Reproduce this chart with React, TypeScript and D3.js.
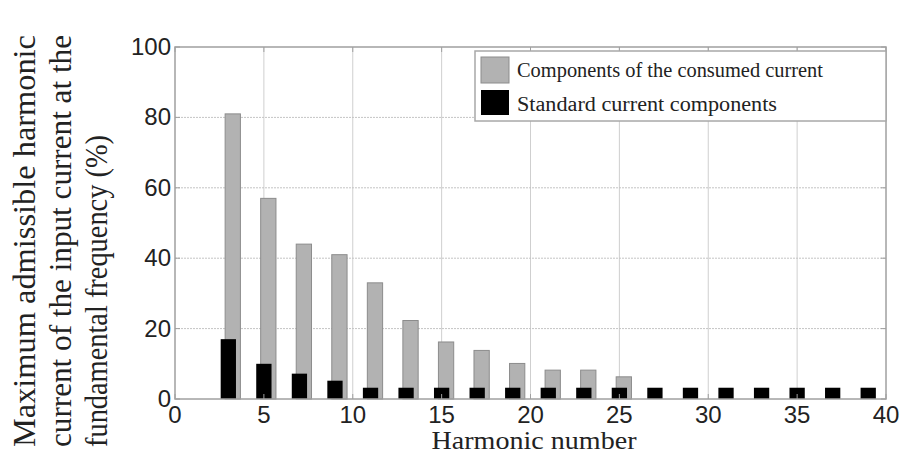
import React from "react";
import * as d3 from "d3";

const harmonics = [3, 5, 7, 9, 11, 13, 15, 17, 19, 21, 23, 25, 27, 29, 31, 33, 35, 37, 39];
const consumedHarmonics = [3, 5, 7, 9, 11, 13, 15, 17, 19, 21, 23, 25];
const consumedValues = [81, 57, 44, 41, 33, 22.3, 16.2, 13.8, 10.1, 8.2, 8.2, 6.3];
const standardValues = [17, 10, 7.2, 5.2, 3.2, 3.2, 3.2, 3.2, 3.2, 3.2, 3.2, 3.2, 3.2, 3.2, 3.2, 3.2, 3.2, 3.2, 3.2];
const xTicks = [0, 5, 10, 15, 20, 25, 30, 35, 40];
const yTicks = [0, 20, 40, 60, 80, 100];
const legendLabels = ["Components of the consumed current", "Standard current components"];
const yLabelLines = [
  "Maximum admissible harmonic",
  "current of the input current at the",
  "fundamental frequency (%)",
];
const xLabel = "Harmonic number";

export default function App() {
  const W = 904, H = 455;
  const x = d3.scaleLinear().domain([0, 40]).range([175, 886]);
  const y = d3.scaleLinear().domain([0, 100]).range([399, 47]);
  const bw = x(0.86) - x(0);
  const sans = "Liberation Sans";
  const serif = "Liberation Serif";
  const yLabelLengths = [412, 412, 312];

  return (
    <svg width={W} height={H} style={{ position: "absolute", left: 0, top: 0, background: "#fff" }}>
      <rect x={0} y={0} width={W} height={H} fill="#fff" />
      {/* grid */}
      {xTicks.slice(1, -1).map((t) => (
        <line key={"gx" + t} x1={x(t)} x2={x(t)} y1={y(0)} y2={y(100)} stroke="#cfcfcf" strokeWidth={1} />
      ))}
      {yTicks.slice(1, -1).map((t) => (
        <line key={"gy" + t} x1={x(0)} x2={x(40)} y1={y(t)} y2={y(t)} stroke="#c4c4c4" strokeWidth={1} strokeDasharray="2,1" />
      ))}
      {/* consumed bars */}
      {consumedHarmonics.map((h, i) => (
        <rect
          key={"c" + h}
          x={x(h + 0.25) - bw / 2}
          y={y(consumedValues[i])}
          width={bw}
          height={y(0) - y(consumedValues[i])}
          fill="#b2b2b2"
          stroke="#8c8c8c"
          strokeWidth={1}
        />
      ))}
      {/* standard bars */}
      {harmonics.map((h, i) => (
        <rect
          key={"s" + h}
          x={x(h) - bw / 2}
          y={y(standardValues[i])}
          width={bw}
          height={y(0) - y(standardValues[i])}
          fill="#000"
        />
      ))}
      {/* frame */}
      <rect x={x(0)} y={y(100)} width={x(40) - x(0)} height={y(0) - y(100)} fill="none" stroke="#a0a0a0" strokeWidth={1.5} />
      {/* ticks */}
      {xTicks.map((t) => (
        <g key={"tx" + t}>
          <line x1={x(t)} x2={x(t)} y1={y(0)} y2={y(0) - 5} stroke="#a0a0a0" />
          <line x1={x(t)} x2={x(t)} y1={y(100)} y2={y(100) + 5} stroke="#a0a0a0" />
          <text x={x(t)} y={y(0) + 24} textAnchor="middle" fontFamily={sans} fontSize={24} fill="#222">
            {t}
          </text>
        </g>
      ))}
      {yTicks.map((t) => (
        <g key={"ty" + t}>
          <line x1={x(0)} x2={x(0) + 5} y1={y(t)} y2={y(t)} stroke="#a0a0a0" />
          <line x1={x(40)} x2={x(40) - 5} y1={y(t)} y2={y(t)} stroke="#a0a0a0" />
          <text x={x(0) - 4} y={y(t) + 8} textAnchor="end" fontFamily={sans} fontSize={24} fill="#222">
            {t}
          </text>
        </g>
      ))}
      {/* legend */}
      <rect x={475} y={51} width={411} height={70} fill="#fff" stroke="#a8a8a8" strokeWidth={1.5} />
      <rect x={481} y={57} width={28} height={26} fill="#b2b2b2" stroke="#8c8c8c" />
      <rect x={481} y={90} width={28} height={25} fill="#000" />
      <text x={517} y={77} fontFamily={serif} fontSize={20} fill="#222" textLength={306} lengthAdjust="spacingAndGlyphs">
        {legendLabels[0]}
      </text>
      <text x={517} y={111} fontFamily={serif} fontSize={20} fill="#222" textLength={260} lengthAdjust="spacingAndGlyphs">
        {legendLabels[1]}
      </text>
      {/* axis labels */}
      <text x={534} y={449} textAnchor="middle" fontFamily={serif} fontSize={26} fill="#222" textLength={205} lengthAdjust="spacingAndGlyphs">
        {xLabel}
      </text>
      {yLabelLines.map((l, i) => (
        <text
          key={"yl" + i}
          x={0}
          y={0}
          transform={`translate(${35 + i * 36},447) rotate(-90)`}
          fontFamily={serif}
          fontSize={31}
          fill="#222"
          textLength={yLabelLengths[i]}
          lengthAdjust="spacingAndGlyphs"
        >
          {l}
        </text>
      ))}
    </svg>
  );
}
